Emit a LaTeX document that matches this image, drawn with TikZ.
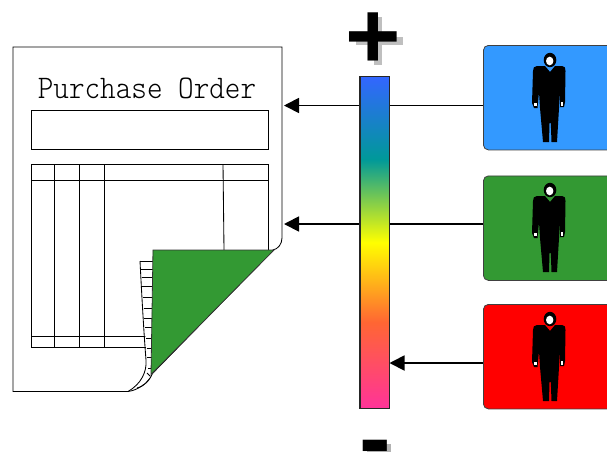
\documentclass[tikz,border=0pt]{standalone}
\usepackage{fontspec}
\usetikzlibrary{arrows.meta}
\newfontfamily\signfont{Liberation Sans}[BoldFont={Liberation Sans Bold}]
\newfontfamily\titlefont{Latin Modern Mono Light}
\definecolor{cblue}{RGB}{51,153,255}
\definecolor{cgreen}{RGB}{51,153,51}
\pgfdeclareverticalshading{barshade}{100bp}{
 rgb(0bp)=(1,0.2,0.6);
 rgb(25bp)=(1,0.2,0.6);
 rgb(38bp)=(1,0.4,0.2);
 rgb(50bp)=(1,1,0);
 rgb(62.5bp)=(0,0.6,0.6);
 rgb(75bp)=(0.2,0.4,1);
 rgb(100bp)=(0.2,0.4,1)}
\tikzset{
 x=1pt,y=-1pt,
 thin line/.style={draw=black,line width=0.85pt},
 personbox/.style={draw=black!75,line width=0.8pt,rounded corners=5pt,minimum width=150pt,minimum height=104.5pt,anchor=north west,inner sep=0pt},
 flow/.style={draw=black,line width=1.8pt,-{Triangle[length=15pt,width=15pt]}},
 sign/.style={font=\signfont\bfseries\fontsize{95}{95}\selectfont,text=black,inner sep=0pt},
 pics/person/.style={code={
  \fill[black] (550,60) ellipse [x radius=6.3,y radius=7.2];
  \fill[black] (537,66) -- (545,66) -- (550,72) -- (555,66) -- (562,66)
    .. controls (565,66) and (565.5,68) .. (565.5,71)
    -- (565,102) -- (564,107) -- (560,107) -- (560,92) -- (559,108)
    -- (557,142) -- (551.5,142) -- (550.8,123) -- (549.5,123) -- (549,142) -- (543,142)
    -- (540,108) -- (539,92) -- (537.5,108) -- (534,108) -- (532,103) -- (533,71)
    .. controls (533,68) and (534,66) .. (537,66) -- cycle;
  \fill[white] (549.7,61) ellipse [x radius=3.7,y radius=4.3];
  \fill[white] (534,102.5) rectangle (536.5,106);
  \fill[white] (560.5,102) rectangle (563,105.5);
 }}
}
\begin{document}
\begin{tikzpicture}
\useasboundingbox (0,0) rectangle (607,451);
\clip (0,0) rectangle (607,451);
% page
\draw[thin line,fill=white] (13,47) -- (282,47) -- (282,238)
  .. controls (282,244) and (278,249) .. (273,250) -- (152,374)
  .. controls (147,384) and (138,390) .. (128,391.5) -- (13,391.5) -- cycle;
\node[thin line,minimum width=237pt,minimum height=38.5pt,inner sep=0pt,anchor=north west] (headbox) at (31,110) {};
\node[inner sep=0pt,xscale=0.9] (title) at (147,88) {\fontsize{33}{33}\titlefont Purchase Order};
% table
\draw[thin line] (31,164) -- (268.7,164) -- (268.7,250);
\draw[thin line] (31,164) -- (31,347) -- (146,347);
\draw[thin line] (31,180) -- (268.7,180);
\draw[thin line] (31,336) -- (146,336);
\foreach \xa in {54,79,104} \draw[thin line] (\xa,164) -- (\xa,347);
\draw[thin line] (223,164) -- (224,250);
% fold back with ruled lines
\fill[white] (140,261) -- (153,261) -- (153,374) -- (144,384) -- (136,384) .. controls (146,375) and (147,368) .. (147,360) -- cycle;
\draw[thin line] (140,261) .. controls (142,300) and (144,335) .. (146,360)
  .. controls (147,372) and (141,384) .. (128,391.5);
\draw[thin line] (153,372) .. controls (150,380) and (145,386) .. (137,388);
\foreach \ya/\xa in {261/140,269.5/141,277/141.5,286/142,297/143,308/143.5,318/144,327/145,338/146,348/146.5,357/147,368/148}
  \draw[thin line] (\xa,\ya) -- (153,\ya);
\draw[thin line] (147,373) -- (150,376);
% green flap
\draw[draw=black!80,line width=0.8pt,fill=cgreen] (153,250) -- (274,250) -- (151,374.5) -- cycle;
% boxes
\node[personbox,fill=cblue] (box1) at (483,45) {};
\node[personbox,fill=cgreen] (box2) at (483,175.5) {};
\node[personbox,fill=red] (box3) at (483,304) {};
\pic at (0,0) {person};
\pic at (0,130) {person};
\pic at (0,259) {person};
% connectors
\coordinate (t1) at (284,105.5);
\coordinate (t2) at (284,224);
\coordinate (t3) at (389.5,363);
\draw[flow] (box1.west |- t1) -- (t1);
\draw[flow] (box2.west |- t2) -- (t2);
% bar
\node[draw=black!85,line width=1.8pt,minimum width=29.5pt,minimum height=332pt,inner sep=0pt,anchor=north west,shading=barshade] (bar) at (359,75.5) {};
\draw[flow] (box3.west |- t3) -- (t3);
% signs: shadows then glyphs
\fill[black!25] (356,37) rectangle (403,45);
\fill[black!25] (374,17) rectangle (382,65);
\fill[black!30] (367,444) rectangle (391,453);
\node[sign] (plus) at (373.5,41) {+};
\node[sign] (minus) at (375,455.5) {-};
\end{tikzpicture}
\end{document}
